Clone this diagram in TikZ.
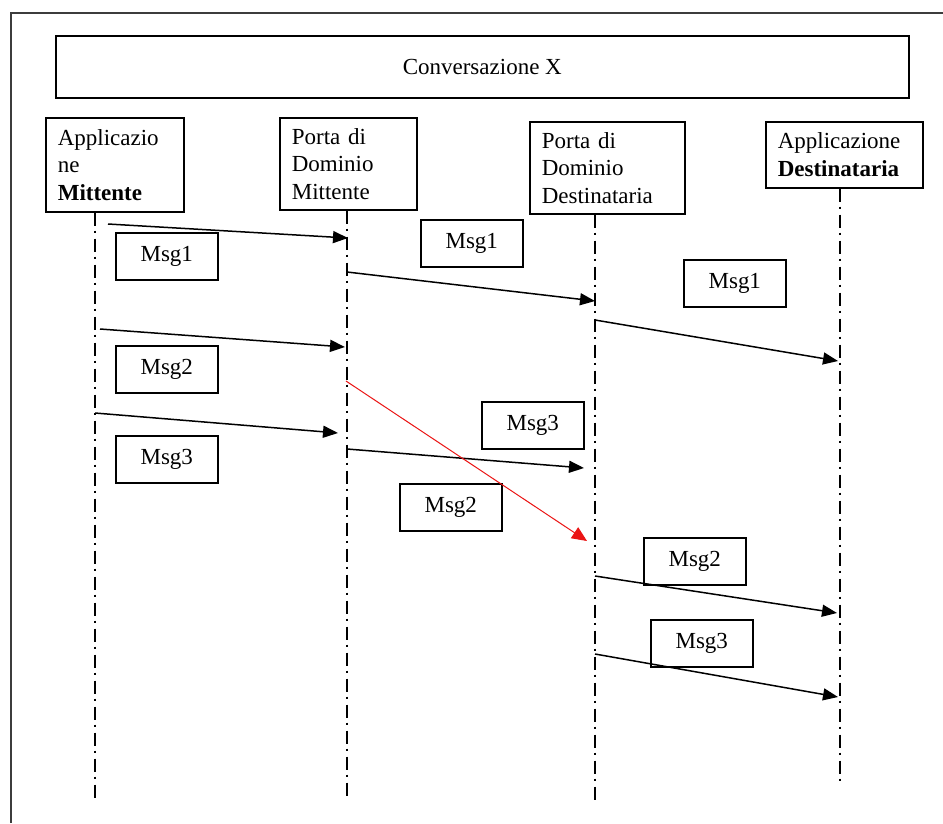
\documentclass[tikz,border=0pt]{standalone}
\usepackage{fontspec}
\setmainfont{Liberation Serif}
\usepackage{tikz}
\usetikzlibrary{arrows.meta}

\begin{document}
\begin{tikzpicture}[x=1pt,y=-1pt,
  box/.style={draw=drawColor,fill=fillColor,line width=1.6pt,rectangle,inner sep=0pt,
    font=\fontsize{23}{27.5}\selectfont},
  partbox/.style={box,anchor=north west,align=left,inner xsep=12pt},
  msgbox/.style={box,anchor=north west,minimum width=102pt,minimum height=47pt},
  lifeline/.style={draw=drawColor,line width=1.4pt,dash pattern=on 13pt off 5pt on 2pt off 6pt},
  msg/.style={draw=drawColor,line width=1.5pt,-{Triangle[length=15pt,width=12pt]}},
  lost/.style={draw=redColor,line width=1pt,-{Triangle[length=15pt,width=13pt]}}]
\definecolor{fillColor}{RGB}{255,255,255}
\definecolor{drawColor}{RGB}{0,0,0}
\definecolor{frameColor}{RGB}{60,60,60}
\definecolor{redColor}{RGB}{235,20,20}

\path[use as bounding box,fill=fillColor] (0,0) rectangle (943,823);
\path[draw=frameColor,line width=2pt] (11,823) -- (11,13) -- (943,13);

\node[box,anchor=north west,minimum width=853pt,minimum height=62pt] (conv) at (55,35) {Conversazione X};

\node[partbox,text width=114pt,minimum height=94pt] (appMitt) at (45,117) {Applicazio\\ne\\\textbf{Mittente}};
\node[partbox,text width=113pt,minimum height=92pt] (pdMitt) at (279,117) {Porta di\\Dominio\\Mittente};
\node[partbox,text width=131pt,minimum height=92pt] (pdDest) at (529,121) {Porta di\\Dominio\\Destinataria};
\node[partbox,text width=133pt,minimum height=66pt] (appDest) at (765,121) {Applicazione\\\textbf{Destinataria}};

\coordinate (appMitt-end) at (95,800);
\coordinate (pdMitt-end) at (347,800);
\coordinate (pdDest-end) at (595,800);
\coordinate (appDest-end) at (840,783);

\path[lifeline] (appMitt.south -| appMitt-end) -- (appMitt-end);
\path[lifeline] (pdMitt.south -| pdMitt-end) -- (pdMitt-end);
\path[lifeline] (pdDest.south -| pdDest-end) -- (pdDest-end);
\path[lifeline] (appDest.south -| appDest-end) -- (appDest-end);

\node[msgbox] (msg1a) at (115,232) {Msg1};
\node[msgbox] (msg1b) at (420,219) {Msg1};
\node[msgbox] (msg1c) at (683,259) {Msg1};
\node[msgbox] (msg2a) at (115,345) {Msg2};
\node[msgbox] (msg3a) at (115,435) {Msg3};
\node[msgbox] (msg3b) at (481,401) {Msg3};
\node[msgbox] (msg2b) at (399,483) {Msg2};
\node[msgbox] (msg2c) at (643,537) {Msg2};
\node[msgbox] (msg3c) at (650,619) {Msg3};

\coordinate (m1a-from) at (108,224);
\coordinate (m1a-to) at (348,238);
\coordinate (m1b-from) at (347,272);
\coordinate (m1b-to) at (595,301);
\coordinate (m1c-from) at (595,320);
\coordinate (m1c-to) at (838,361);
\coordinate (m2a-from) at (100,329);
\coordinate (m2a-to) at (345,347);
\coordinate (m3a-from) at (95,413);
\coordinate (m3a-to) at (338,433);
\coordinate (m3b-from) at (347,449);
\coordinate (m3b-to) at (584,468);
\coordinate (m2b-from) at (346,381);
\coordinate (m2b-to) at (587,541);
\coordinate (m2c-from) at (595,576);
\coordinate (m2c-to) at (837,613);
\coordinate (m3c-from) at (595,654);
\coordinate (m3c-to) at (838,697);

\path[msg] (m1a-from) -- (m1a-to);
\path[msg] (m1b-from) -- (m1b-to);
\path[msg] (m1c-from) -- (m1c-to);
\path[msg] (m2a-from) -- (m2a-to);
\path[msg] (m3a-from) -- (m3a-to);
\path[msg] (m3b-from) -- (m3b-to);
\path[lost] (m2b-from) -- (m2b-to);
\path[msg] (m2c-from) -- (m2c-to);
\path[msg] (m3c-from) -- (m3c-to);
\end{tikzpicture}
\end{document}
